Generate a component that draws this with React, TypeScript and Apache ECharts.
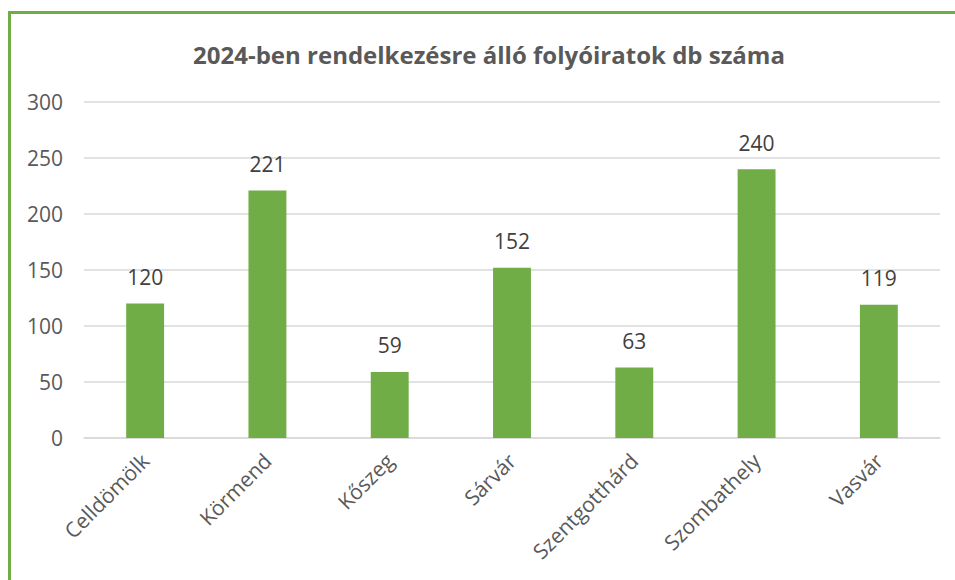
import React, { useEffect, useRef } from "react";
import * as echarts from "echarts";

const categories = ["Celldömölk", "Körmend", "Kőszeg", "Sárvár", "Szentgotthárd", "Szombathely", "Vasvár"];
const values = [120, 221, 59, 152, 63, 240, 119];
const titleText = "2024-ben rendelkezésre álló folyóiratok db száma";

export default function App() {
  const ref = useRef<HTMLDivElement>(null);
  useEffect(() => {
    const chart = echarts.init(ref.current!, null, { renderer: "svg" });
    const font = "'Open Sans', 'Noto Sans', sans-serif";
    chart.setOption({
      animation: false,
      backgroundColor: "#ffffff",
      title: {
        text: titleText,
        left: 484,
        textAlign: "center",
        top: 37,
        textStyle: { fontFamily: font, fontSize: 24, fontWeight: "bold", color: "#595959" },
      },
      graphic: [
        { type: "rect", shape: { x: 8, y: 11, width: 3, height: 569 }, style: { fill: "#70AD47" } },
        { type: "rect", shape: { x: 8, y: 11, width: 947, height: 3 }, style: { fill: "#70AD47" } },
      ],
      grid: { left: 84, right: 15, top: 102, bottom: 142, containLabel: false },
      xAxis: {
        type: "category",
        data: categories,
        axisLine: { lineStyle: { color: "#D9D9D9", width: 1.5 } },
        axisTick: { show: false },
        axisLabel: {
          rotate: 45,
          interval: 0,
          margin: 19,
          fontFamily: font,
          fontSize: 21,
          color: "#595959",
        },
      },
      yAxis: {
        type: "value",
        min: 0,
        max: 300,
        interval: 50,
        axisLine: { show: false },
        axisTick: { show: false },
        splitLine: { lineStyle: { color: "#D9D9D9", width: 1.5 } },
        axisLabel: { margin: 21, fontFamily: font, fontSize: 21, color: "#595959" },
      },
      series: [
        {
          type: "bar",
          data: values,
          barWidth: "31%",
          itemStyle: { color: "#70AD47" },
          label: {
            show: true,
            position: "top",
            distance: 16,
            fontFamily: font,
            fontSize: 21,
            color: "#404040",
          },
        },
      ],
    });
    return () => chart.dispose();
  }, []);
  return <div ref={ref} style={{ position: "fixed", left: 0, top: 0, width: 955, height: 580 }} />;
}
